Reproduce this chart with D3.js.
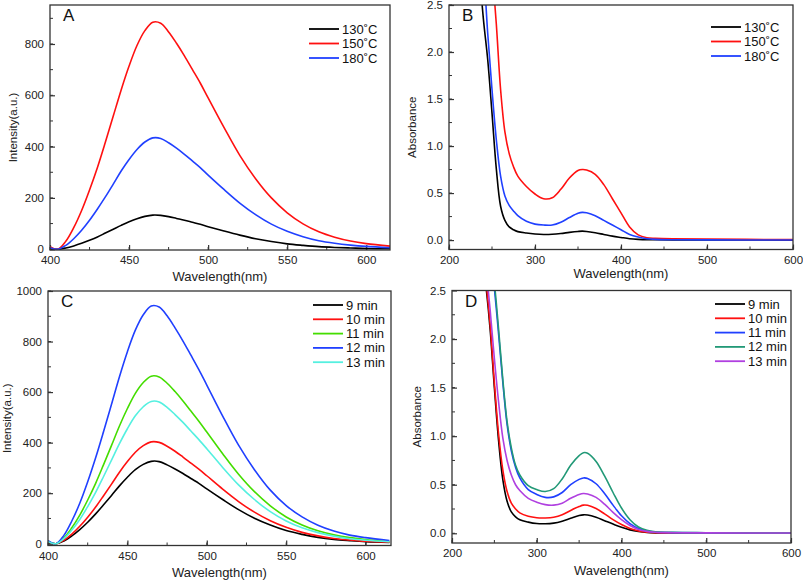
<!DOCTYPE html>
<html><head><meta charset="utf-8">
<script src="https://cdn.jsdelivr.net/npm/d3@7"></script>
<style>
body{margin:0;background:#fff;}
svg{display:block;font-family:"Liberation Sans",Arial,sans-serif;}
</style></head>
<body>
<svg id="chart" width="803" height="580"></svg>
<script>
// ---------- DATA ----------
const emWl = [400,405,410,415,420,425,430,435,440,445,450,455,460,465,470,475,480,485,490,495,500,510,520,530,540,550,560,570,580,590,600,615];
const emA130 = [2,0,5,13,23,35,48,63,78,93,107,119,128,133,132,127,120,113,105,97,88,71,55,41,30,21,15,10,7,5,3,2];
const emA150 = [10,0,31,84,151,231,319,417,519,621,714,794,852,885,881,847,803,754,701,648,590,475,366,275,200,142,99,68,47,32,22,12];
const emA180 = [6,0,15,41,74,113,157,204,254,305,350,389,418,434,432,415,394,370,344,318,289,233,180,135,98,70,49,33,23,16,11,6];
const emC9  = [6,0,11,31,56,85,118,154,191,229,263,293,314,326,325,312,296,278,258,239,217,175,135,101,74,52,37,25,17,12,8,5];
const emC10 = [7,0,14,38,69,105,145,190,236,283,325,362,388,403,401,386,366,343,319,295,269,216,167,125,91,65,45,31,21,15,10,6];
const emC11 = [9,0,23,63,113,173,239,313,389,466,535,595,638,663,660,635,602,565,525,485,442,356,275,206,150,106,74,51,35,24,17,9];
const emC12 = [12,0,33,90,160,245,340,444,552,661,760,845,906,941,937,902,854,802,746,689,628,505,390,293,212,151,106,73,50,34,24,13];
const emC13 = [8,0,20,54,96,147,203,266,331,396,455,506,542,563,561,540,511,480,446,412,376,302,233,175,127,90,63,44,30,20,14,8];

const abWl = [235,240,245,250,255,260,265,270,275,280,290,300,310,320,330,340,350,355,360,370,380,390,400,410,420,430,440,460,500,600];
const abB130 = [2.9,2.35,1.92,1.35,0.76,0.36,0.21,0.14,0.11,0.09,0.075,0.065,0.06,0.062,0.07,0.082,0.092,0.095,0.092,0.078,0.06,0.042,0.028,0.015,0.008,0.004,0.003,0.002,0.001,0.0];
const abB150 = [4.5,4.0,3.5,2.9,2.3,1.6,1.15,0.92,0.78,0.68,0.57,0.49,0.44,0.45,0.54,0.66,0.74,0.75,0.745,0.7,0.59,0.44,0.29,0.14,0.055,0.025,0.018,0.013,0.01,0.005];
const abB180 = [3.3,2.9,2.2,1.6,1.07,0.68,0.47,0.37,0.31,0.26,0.2,0.17,0.16,0.16,0.19,0.24,0.285,0.295,0.29,0.26,0.21,0.16,0.11,0.06,0.032,0.015,0.008,0.004,0.002,0.001];
const abD9  = [2.9,2.55,2.1,1.5,0.95,0.55,0.33,0.22,0.17,0.14,0.115,0.1,0.098,0.105,0.125,0.155,0.183,0.19,0.188,0.165,0.13,0.095,0.062,0.035,0.018,0.008,0.004,0.002,0.001,0.0];
const abD10 = [2.95,2.6,2.15,1.55,1.02,0.65,0.43,0.31,0.25,0.21,0.175,0.16,0.158,0.165,0.19,0.235,0.275,0.29,0.288,0.255,0.2,0.14,0.09,0.05,0.025,0.012,0.007,0.004,0.002,0.001];
const abD11 = [3.6,3.2,2.9,2.52,2.05,1.55,1.12,0.85,0.68,0.57,0.45,0.4,0.37,0.375,0.42,0.5,0.555,0.57,0.565,0.51,0.41,0.29,0.18,0.1,0.05,0.022,0.012,0.007,0.004,0.003];
const abD12 = [3.7,3.3,2.95,2.58,2.1,1.58,1.15,0.88,0.7,0.6,0.49,0.45,0.43,0.46,0.56,0.7,0.8,0.83,0.825,0.74,0.59,0.42,0.26,0.14,0.065,0.03,0.016,0.009,0.006,0.004];
const abD13 = [3.2,2.75,2.3,1.8,1.35,0.98,0.75,0.6,0.5,0.44,0.36,0.32,0.295,0.29,0.31,0.36,0.4,0.41,0.405,0.37,0.3,0.215,0.14,0.08,0.04,0.02,0.01,0.006,0.004,0.003];

const labelsAB = ["130˚C","150˚C","180˚C"];
const labelsCD = ["9 min","10 min","11 min","12 min","13 min"];

// ---------- DRAW ----------
const svg = d3.select("#chart");
let clipId = 0;

function panel(cfg){
  const x = d3.scaleLinear().domain(cfg.xDom).range([cfg.l, cfg.r]);
  const y = d3.scaleLinear().domain(cfg.yDom).range([cfg.b, cfg.t]);
  const g = svg.append("g");
  const id = "clip" + (clipId++);
  g.append("clipPath").attr("id", id).append("rect")
    .attr("x", cfg.l).attr("y", cfg.t).attr("width", cfg.r - cfg.l).attr("height", cfg.b - cfg.t);

  // minor ticks
  const xMinor = d3.range(cfg.xDom[0], cfg.xDom[1] + 0.001, cfg.xMinor);
  const yMinor = d3.range(Math.ceil(cfg.yDom[0]/cfg.yMinor)*cfg.yMinor, cfg.yDom[1] + 1e-9, cfg.yMinor);
  g.selectAll(".xm").data(xMinor).enter().append("line")
    .attr("x1", d => x(d)).attr("x2", d => x(d)).attr("y1", cfg.b).attr("y2", cfg.b - 3)
    .attr("stroke", "#333").attr("stroke-width", 1);
  g.selectAll(".ym").data(yMinor).enter().append("line")
    .attr("y1", d => y(d)).attr("y2", d => y(d)).attr("x1", cfg.l).attr("x2", cfg.l + 3)
    .attr("stroke", "#333").attr("stroke-width", 1);

  // axes with inward ticks
  const xa = d3.axisBottom(x).tickValues(cfg.xTicks).tickSizeInner(-5).tickSizeOuter(0).tickPadding(6);
  const ya = d3.axisLeft(y).tickValues(cfg.yTicks).tickSizeInner(-5).tickSizeOuter(0).tickPadding(6)
    .tickFormat(cfg.yFmt);
  const gx = g.append("g").attr("transform", `translate(0,${cfg.b})`).call(xa);
  const gy = g.append("g").attr("transform", `translate(${cfg.l},0)`).call(ya);
  [gx, gy].forEach(a => {
    a.select(".domain").remove();
    a.selectAll(".tick line").attr("stroke", "#333").attr("stroke-width", 1.2);
    a.selectAll(".tick text").attr("fill", "#222").style("font-size", "11.5px");
  });

  // lines
  const line = d3.line().x(d => x(d[0])).y(d => y(d[1])).curve(d3.curveCatmullRom.alpha(0.5));
  const lg = g.append("g").attr("clip-path", `url(#${id})`);
  cfg.series.forEach(s => {
    lg.append("path").datum(cfg.wl.map((w, i) => [w, s.v[i]]))
      .attr("d", line).attr("fill", "none").attr("stroke", s.c).attr("stroke-width", 1.6);
  });

  // frame
  g.append("rect").attr("x", cfg.l).attr("y", cfg.t).attr("width", cfg.r - cfg.l).attr("height", cfg.b - cfg.t)
    .attr("fill", "none").attr("stroke", "#333").attr("stroke-width", 1.3);

  // titles
  g.append("text").attr("x", (cfg.l + cfg.r) / 2).attr("y", cfg.xtY)
    .attr("text-anchor", "middle").style("font-size", "13px").attr("fill", "#222").text("Wavelength(nm)");
  g.append("text").attr("transform", `translate(${cfg.ytX},${(cfg.t + cfg.b) / 2}) rotate(-90)`)
    .attr("text-anchor", "middle").style("font-size", "11.5px").attr("fill", "#222").text(cfg.yTitle);
  g.append("text").attr("x", cfg.l + 13).attr("y", cfg.t + 16)
    .style("font-size", "17px").attr("fill", "#111").text(cfg.letter);

  // legend
  cfg.series.forEach((s, i) => {
    const yy = cfg.legY + i * cfg.legDy;
    g.append("line").attr("x1", cfg.legX).attr("x2", cfg.legX + 30).attr("y1", yy).attr("y2", yy)
      .attr("stroke", s.c).attr("stroke-width", 1.8);
    g.append("text").attr("x", cfg.legX + 33).attr("y", yy + 4.5)
      .style("font-size", "13px").attr("fill", "#111").text(s.name);
  });
}

const f1 = d3.format(".1f");

panel({l:50, r:390, t:5, b:250, xDom:[400,615], yDom:[-3,952],
  xTicks:[400,450,500,550,600], xMinor:25, yTicks:[0,200,400,600,800], yMinor:100, yFmt:d3.format("d"),
  wl: emWl, yTitle:"Intensity(a.u.)", letter:"A", xtY:281, ytX:17,
  legX:309, legY:29, legDy:14.5,
  series:[{name:labelsAB[0], c:"#000000", v:emA130},{name:labelsAB[1], c:"#ff1010", v:emA150},{name:labelsAB[2], c:"#2040ff", v:emA180}]});

panel({l:449, r:793, t:5, b:249.5, xDom:[200,600], yDom:[-0.1,2.5],
  xTicks:[200,300,400,500,600], xMinor:50, yTicks:[0,0.5,1,1.5,2,2.5], yMinor:0.25, yFmt:f1,
  wl: abWl, yTitle:"Absorbance", letter:"B", xtY:277.5, ytX:416,
  legX:711, legY:27, legDy:14.5,
  series:[{name:labelsAB[0], c:"#000000", v:abB130},{name:labelsAB[1], c:"#ff1010", v:abB150},{name:labelsAB[2], c:"#2040ff", v:abB180}]});

panel({l:48, r:391, t:291, b:545.5, xDom:[400,616], yDom:[-7,1000],
  xTicks:[400,450,500,550,600], xMinor:25, yTicks:[0,200,400,600,800,1000], yMinor:100, yFmt:d3.format("d"),
  wl: emWl, yTitle:"Intensity(a.u.)", letter:"C", xtY:577, ytX:11,
  legX:313, legY:305, legDy:14.3,
  series:[{name:labelsCD[0], c:"#000000", v:emC9},{name:labelsCD[1], c:"#ff1010", v:emC10},{name:labelsCD[2], c:"#44dd00", v:emC11},{name:labelsCD[3], c:"#2040ff", v:emC12},{name:labelsCD[4], c:"#55f0e0", v:emC13}]});

panel({l:452, r:791, t:290.5, b:543, xDom:[200,600], yDom:[-0.1,2.5],
  xTicks:[200,300,400,500,600], xMinor:50, yTicks:[0,0.5,1,1.5,2,2.5], yMinor:0.25, yFmt:f1,
  wl: abWl, yTitle:"Absorbance", letter:"D", xtY:575, ytX:421,
  legX:715, legY:304, legDy:14.3,
  series:[{name:labelsCD[0], c:"#000000", v:abD9},{name:labelsCD[1], c:"#ff1010", v:abD10},{name:labelsCD[2], c:"#2040ff", v:abD11},{name:labelsCD[3], c:"#229977", v:abD12},{name:labelsCD[4], c:"#b040e0", v:abD13}]});
</script>
</body></html>
